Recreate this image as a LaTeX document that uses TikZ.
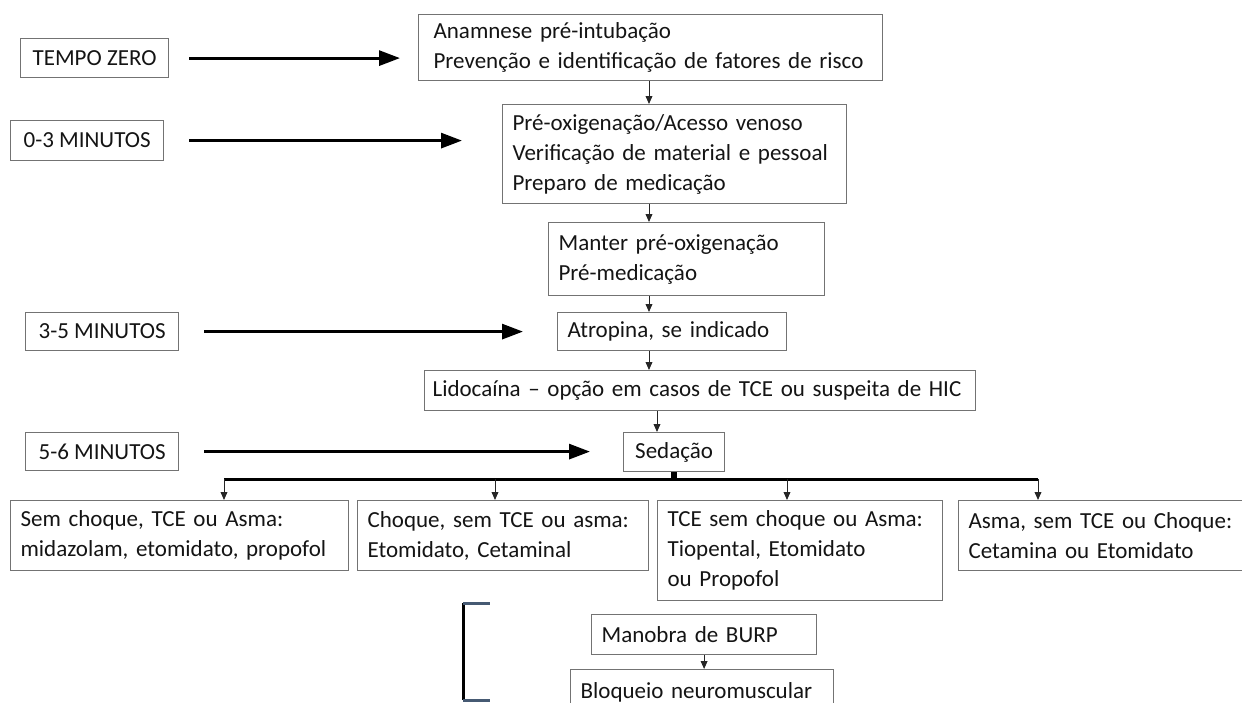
\documentclass[tikz,border=0pt]{standalone}
\usepackage{fontspec}
\setmainfont{Carlito}
\usetikzlibrary{positioning,calc,arrows.meta}
\tikzset{>=stealth}
\definecolor{ardosia}{RGB}{70,90,115}
\tikzset{
  caixa/.style={draw=black!55,line width=0.6pt,text=black!92,anchor=north west,
    align=left,inner xsep=5pt,inner ysep=0pt,font=\fontsize{11.5}{15}\selectfont},
  tempo/.style={caixa,align=center},
  seta/.style={-{Triangle[length=4pt,width=3.4pt]},line width=0.5pt,black!85},
  marco/.style={-{Triangle[length=10.5pt,width=7.5pt]},line width=1.5pt},
  ramo/.style={line width=1.5pt},
}

\begin{document}
\begin{tikzpicture}[x=0.5pt,y=-0.5pt]
% Page of 1242 x 702
\useasboundingbox (0,0) rectangle (1242,702);
\clip (0,0) rectangle (1242,702);

% Time marks on the left
\node[tempo,minimum width=74pt,minimum height=19.5pt] (t0) at (20,38) {TEMPO ZERO};
\node[tempo,minimum width=76.5pt,minimum height=20pt] (t1) at (10,120) {0-3 MINUTOS};
\node[tempo,minimum width=76.5pt,minimum height=19pt] (t2) at (25,312) {3-5 MINUTOS};
\node[tempo,minimum width=76.5pt,minimum height=19pt] (t3) at (25,432) {5-6 MINUTOS};

% Main column
\node[caixa,inner xsep=7.5pt,text width=217pt,minimum height=33pt] (anam) at (418,14)
  {Anamnese pré-intubação\\Prevenção e identificação de fatores de risco};
\node[caixa,text width=162pt,minimum height=49.5pt] (preox) at (502,104)
  {Pré-oxigenação/Acesso venoso\\Verificação de material e pessoal\\Preparo de medicação};
\node[caixa,text width=128pt,minimum height=36.5pt] (manter) at (548,222)
  {Manter pré-oxigenação\\Pré-medicação};
\node[caixa,text width=104.5pt,minimum height=19pt] (atrop) at (557,312)
  {Atropina, se indicado};
\node[caixa,inner xsep=4pt,text width=267.5pt,minimum height=20pt] (lido) at (424,370)
  {Lidocaína -- opção em casos de TCE ou suspeita de HIC};
\node[tempo,minimum width=50.5pt,minimum height=19.5pt] (seda) at (623,432) {Sedação};

% Sedation options
\node[caixa,text width=159pt,minimum height=35pt] (op1) at (10,500)
  {Sem choque, TCE ou Asma:\\midazolam, etomidato, propofol};
\node[caixa,text width=135.5pt,minimum height=35pt] (op2) at (357,500)
  {Choque, sem TCE ou asma:\\Etomidato, Cetaminal};
\node[caixa,text width=132.5pt,minimum height=50pt] (op3) at (657,500)
  {TCE sem choque ou Asma:\\Tiopental, Etomidato\\ou Propofol};
\node[caixa,text width=150pt,minimum height=35pt] (op4) at (958,500)
  {Asma, sem TCE ou Choque:\\Cetamina ou Etomidato};

% Last steps
\node[caixa,text width=102.5pt,minimum height=20pt] (burp) at (591,614) {Manobra de BURP};
\node[caixa,text width=121.5pt,minimum height=22.5pt] (bloq) at (570,669) {Bloqueio neuromuscular};

% Time arrows
\draw[marco] ([xshift=10pt]t0.east) -- ([xshift=-9pt]t0 -| anam.west);
\draw[marco] ([xshift=12.5pt]t1.east) -- ([xshift=-20pt]t1 -| preox.west);
\draw[marco] ([xshift=12.5pt]t2.east) -- ([xshift=-17pt]t2 -| atrop.west);
\draw[marco] ([xshift=12.5pt]t3.east) -- ([xshift=-16.5pt]t3 -| seda.west);

% Flow arrows
\coordinate (eixo) at (649,0);
\coordinate (eixo2) at (657,0);
\draw[seta] (anam.south -| eixo) -- (preox.north -| eixo);
\draw[seta] (preox.south -| eixo) -- (manter.north -| eixo);
\draw[seta] (manter.south -| eixo) -- (atrop.north -| eixo);
\draw[seta] (atrop.south -| eixo) -- (lido.north -| eixo);
\draw[seta] (lido.south -| eixo2) -- (seda.north -| eixo2);

% Branch below Sedação
\coordinate (r1) at (224,479);
\coordinate (r2) at (495,479);
\coordinate (r3) at (787,479);
\coordinate (r4) at (1038,479);
\draw[line width=3pt] (seda.south) -- (seda.south |- r1);
\draw[ramo] (r1) -- (r4);
\draw[seta] (r1) -- (r1 |- op1.north);
\draw[seta] (r2) -- (r2 |- op2.north);
\draw[seta] (r3) -- (r3 |- op3.north);
\draw[seta] (r4) -- (r4 |- op4.north);

% Bracket and last arrow
\draw[line width=1.5pt] (463,603) -- (463,700);
\draw[line width=1.5pt,ardosia] (463,603) -- (490,603);
\draw[line width=1.5pt,ardosia] (463,700) -- (490,700);
\draw[seta] (burp.south) -- (burp.south |- bloq.north);
\end{tikzpicture}
\end{document}
